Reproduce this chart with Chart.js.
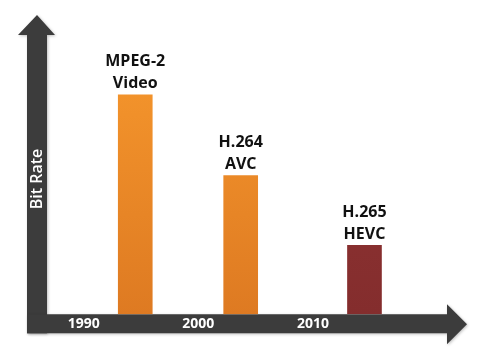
<!DOCTYPE html>
<html>
<head>
<meta charset="utf-8">
<script src="https://cdn.jsdelivr.net/npm/chart.js@4"></script>
<style>
  html, body { margin: 0; padding: 0; background: #ffffff; }
  #wrap { width: 494px; height: 356px; }
</style>
</head>
<body>
<div id="wrap"><canvas id="c" width="494" height="356"></canvas></div>
<script>
// ---- data ----
const standards = [['MPEG-2', 'Video'], ['H.264', 'AVC'], ['H.265', 'HEVC']];
const releaseYears = [1994.5, 2003.7, 2014.5];
const bitRates = [220, 139, 69];
const yearTicks = [1990, 2000, 2010];
const axisTitle = 'Bit Rate';
const barTopColors = ['#F99B2E', '#F99B2E', '#933636'];
const barBottomColors = ['#DE7A22', '#DE7A22', '#842D2D'];

const AXIS_COLOR = '#3c3c3c';

const arrowPlugin = {
  id: 'arrowAxes',
  beforeDraw(chart) {
    const { ctx, chartArea } = chart;
    const L = chartArea.left, B = chartArea.bottom, T = chartArea.top, R = chartArea.right;
    const w = 20;
    ctx.save();
    ctx.shadowColor = 'rgba(0,0,0,0.25)';
    ctx.shadowBlur = 3;
    ctx.shadowOffsetX = 1;
    ctx.shadowOffsetY = 1;
    ctx.fillStyle = AXIS_COLOR;
    // vertical arrow
    ctx.beginPath();
    ctx.moveTo(L - w, B + w - 1);
    ctx.lineTo(L - w, T + 20);
    ctx.lineTo(L - w - 9, T + 20);
    ctx.lineTo(L - w / 2, T);
    ctx.lineTo(L + 8, T + 20);
    ctx.lineTo(L, T + 20);
    ctx.lineTo(L, B + w - 1);
    ctx.closePath();
    ctx.fill();
    // horizontal arrow
    ctx.beginPath();
    ctx.moveTo(L - w, B);
    ctx.lineTo(R, B);
    ctx.lineTo(R, B - 10);
    ctx.lineTo(R + 20, B + w / 2);
    ctx.lineTo(R, B + w + 10);
    ctx.lineTo(R, B + w - 1);
    ctx.lineTo(L - w, B + w - 1);
    ctx.closePath();
    ctx.fill();
    ctx.restore();
    // y-axis title on the vertical arrow
    ctx.save();
    ctx.translate(L - w / 2, 179);
    ctx.rotate(-Math.PI / 2);
    ctx.fillStyle = '#ffffff';
    ctx.font = '600 16px "Open Sans"';
    ctx.textAlign = 'center';
    ctx.textBaseline = 'middle';
    ctx.fillText(axisTitle, 0, 0);
    ctx.restore();
  },
  afterDatasetsDraw(chart) {
    const { ctx } = chart;
    const meta = chart.getDatasetMeta(0);
    ctx.save();
    ctx.fillStyle = '#111111';
    ctx.font = 'bold 16px "Open Sans"';
    ctx.textAlign = 'center';
    ctx.textBaseline = 'middle';
    meta.data.forEach((bar, i) => {
      const lines = standards[i];
      ctx.fillText(lines[0], bar.x, bar.y - 33);
      ctx.fillText(lines[1], bar.x, bar.y - 11);
    });
    ctx.restore();
  }
};

new Chart(document.getElementById('c'), {
  type: 'bar',
  data: {
    datasets: [{
      data: releaseYears.map((x, i) => ({ x: x, y: bitRates[i] })),
      barThickness: 34,
      borderWidth: 0,
      backgroundColor: (c) => {
        const chart = c.chart;
        const area = chart.chartArea;
        if (!area) return barTopColors[c.dataIndex];
        const g = chart.ctx.createLinearGradient(0, area.top, 0, area.bottom);
        g.addColorStop(0, barTopColors[c.dataIndex]);
        g.addColorStop(1, barBottomColors[c.dataIndex]);
        return g;
      }
    }]
  },
  options: {
    responsive: false,
    animation: false,
    layout: { padding: { top: 15, left: 47, right: 47, bottom: 23 } },
    plugins: { legend: { display: false }, tooltip: { enabled: false } },
    scales: {
      x: {
        type: 'linear',
        offset: false,
        min: 1986.8,
        max: 2021.7,
        afterBuildTicks: (s) => { s.ticks = yearTicks.map(v => ({ value: v })); },
        ticks: {
          color: '#ffffff',
          font: { family: 'Open Sans', size: 14, weight: 'bold' },
          padding: 1,
          maxRotation: 0,
          autoSkip: false,
          callback: (v) => String(v)
        },
        grid: { display: false, drawTicks: false },
        border: { display: false }
      },
      y: { display: false, min: 0, max: 300 }
    }
  },
  plugins: [arrowPlugin]
});
</script>
</body>
</html>
